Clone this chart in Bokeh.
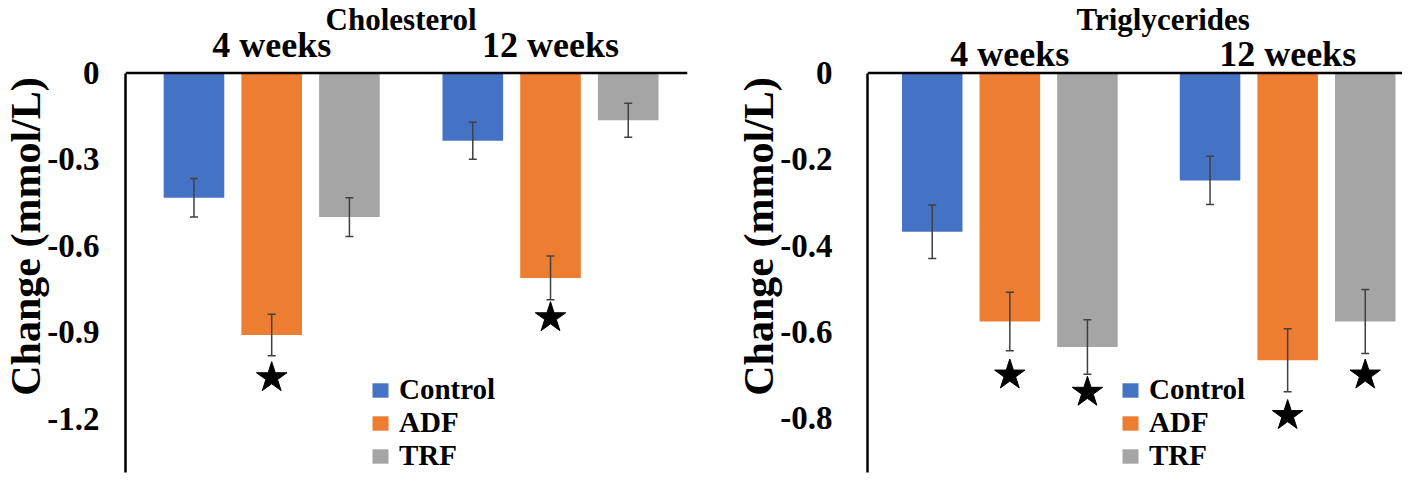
from bokeh.plotting import figure
from bokeh.layouts import row
from bokeh.models import (ColumnDataSource, Range1d, FixedTicker, NumeralTickFormatter,
                          Whisker, TeeHead, Span)
from bokeh.core.properties import value
from bokeh.embed import file_html
from bokeh.resources import INLINE

# ---------------- data ----------------
groups = ["4 weeks", "12 weeks"]
series = ["Control", "ADF", "TRF"]
colors = ["#4472C4", "#ED7D31", "#A5A5A5"]

chol_control = [-0.433, -0.235]
chol_adf = [-0.909, -0.711]
chol_trf = [-0.500, -0.164]
chol_control_err = [0.067, 0.064]
chol_adf_err = [0.072, 0.076]
chol_trf_err = [0.067, 0.059]
chol_star_group = [0, 1]
chol_star_series = [1, 1]
chol_star_y = [-1.057, -0.849]
chol_ticks = [0, -0.3, -0.6, -0.9, -1.2]

trig_control = [-0.368, -0.249]
trig_adf = [-0.576, -0.666]
trig_trf = [-0.635, -0.576]
trig_control_err = [0.062, 0.056]
trig_adf_err = [0.068, 0.073]
trig_trf_err = [0.063, 0.074]
trig_star_group = [0, 0, 1, 1]
trig_star_series = [1, 2, 1, 2]
trig_star_y = [-0.700, -0.740, -0.794, -0.700]
trig_ticks = [0, -0.2, -0.4, -0.6, -0.8]

FONT = "Liberation Serif"
H = 474
BOTTOM = 2
TOP_PX = 72.5          # pixels between canvas top and the zero line


def panel(title, vals, errs, star_g, star_s, star_y, ticks, y_start, gap,
          x_start, x_end, width, border_left, border_right, tick_standoff,
          group_px, title_px, title_x, legend_x):
    frame_h = H - BOTTOM
    px_per_unit = (frame_h - TOP_PX) / (0 - y_start)
    y_end = TOP_PX / px_per_unit
    p = figure(width=width, height=H, output_backend="svg", toolbar_location=None,
               x_range=Range1d(x_start, x_end), y_range=Range1d(y_start, y_end),
               x_axis_location=None,
               min_border_left=border_left, min_border_right=border_right,
               min_border_top=0, min_border_bottom=BOTTOM,
               outline_line_color=None, background_fill_color="white",
               border_fill_color="white")
    p.grid.visible = False

    for si, name in enumerate(series):
        xs = [g * gap + si for g in range(len(groups))]
        top = vals[si]
        src = ColumnDataSource(dict(x=xs, top=top,
                                    upper=[t + e for t, e in zip(top, errs[si])],
                                    lower=[t - e for t, e in zip(top, errs[si])]))
        p.vbar(x="x", top="top", bottom=0, width=0.78, source=src,
               fill_color=colors[si], line_color=None, legend_label=name)
        w = Whisker(base="x", upper="upper", lower="lower", source=src,
                    line_color="#404040", line_width=1.5, level="annotation",
                    upper_head=TeeHead(size=8, line_color="#404040", line_width=1.5),
                    lower_head=TeeHead(size=8, line_color="#404040", line_width=1.5))
        p.add_layout(w)

    sx = [g * gap + s for g, s in zip(star_g, star_s)]
    p.scatter(x=sx, y=star_y, marker="star", size=32, color="black")

    # zero line along the top of the bars
    p.add_layout(Span(location=0, dimension="width", line_color="black", line_width=2.5))

    # group labels and panel title
    p.text(x=[g * gap + 1 for g in range(len(groups))],
           y=[group_px / px_per_unit] * len(groups), text=groups,
           text_font=value(FONT), text_font_style="bold", text_font_size="36px",
           text_align="center", text_baseline="alphabetic", text_color="black")
    p.text(x=[title_x], y=[title_px / px_per_unit], text=[title],
           text_font=value(FONT), text_font_style="bold", text_font_size="31px",
           text_align="center", text_baseline="alphabetic", text_color="black")

    ya = p.yaxis[0]
    ya.bounds = (y_start, 0)
    ya.ticker = FixedTicker(ticks=ticks)
    ya.formatter = NumeralTickFormatter(format="0.[0]")
    ya.major_tick_line_color = None
    ya.minor_tick_line_color = None
    ya.axis_line_width = 2.5
    ya.axis_line_color = "black"
    ya.major_label_text_font = FONT
    ya.major_label_text_font_style = "bold"
    ya.major_label_text_font_size = "33px"
    ya.major_label_text_color = "black"
    ya.major_label_standoff = tick_standoff
    ya.axis_label = "Change (mmol/L)"
    ya.axis_label_text_font = FONT
    ya.axis_label_text_font_style = "bold"
    ya.axis_label_text_font_size = "42px"
    ya.axis_label_text_color = "black"
    ya.axis_label_standoff = -5

    lg = p.legend[0]
    lg.location = (legend_x, 0)
    lg.padding = 0
    lg.margin = 0
    lg.spacing = -5
    lg.glyph_width = 20
    lg.glyph_height = 18
    lg.label_standoff = 9
    lg.label_text_font = FONT
    lg.label_text_font_style = "bold"
    lg.label_text_font_size = "29px"
    lg.label_text_color = "black"
    lg.border_line_color = None
    lg.background_fill_alpha = 0
    return p


left = panel("Cholesterol",
             [chol_control, chol_adf, chol_trf],
             [chol_control_err, chol_adf_err, chol_trf_err],
             chol_star_group, chol_star_series, chol_star_y, chol_ticks,
             y_start=-1.386, gap=3.5875, x_start=-0.881, x_end=6.35,
             width=692, border_left=115, border_right=5, tick_standoff=20,
             group_px=28, title_px=53.5, title_x=2.665, legend_x=245)

right = panel("Triglycerides",
              [trig_control, trig_adf, trig_trf],
              [trig_control_err, trig_adf_err, trig_trf_err],
              trig_star_group, trig_star_series, trig_star_y, trig_ticks,
              y_start=-0.926, gap=3.58, x_start=-0.834, x_end=6.06,
              width=710, border_left=175, border_right=0, tick_standoff=29,
              group_px=19, title_px=53.5, title_x=2.977, legend_x=253)

layout = row(left, right)
open("out.html", "w").write(file_html(layout, INLINE))
